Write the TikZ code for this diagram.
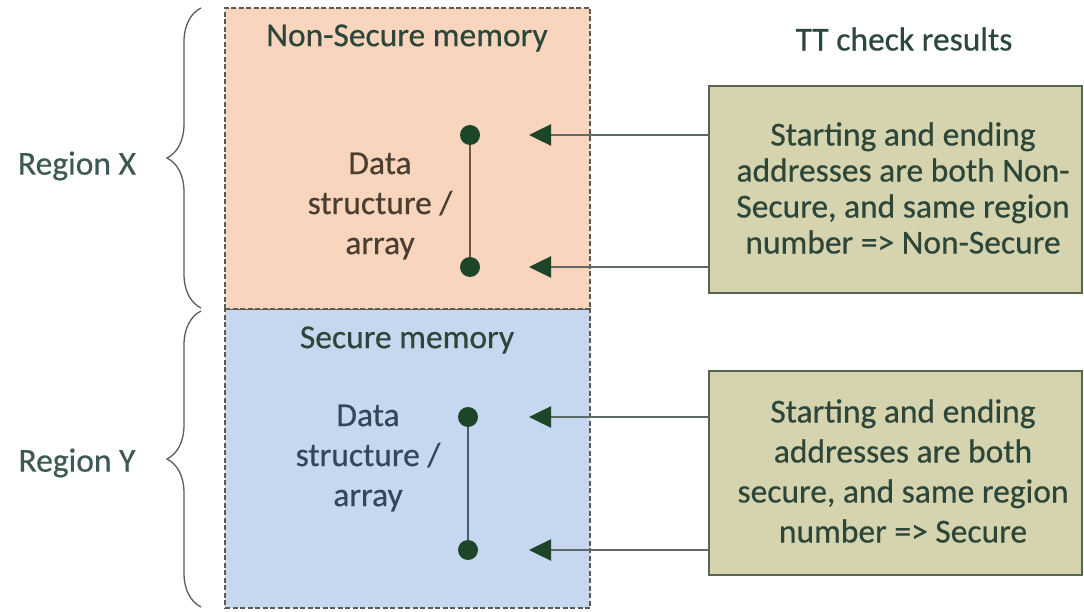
\documentclass[tikz,border=0pt]{standalone}
\usepackage{fontspec}
\newfontfamily\diagfont{Carlito}[FakeBold=0.45]
\usetikzlibrary{arrows.meta,decorations.pathreplacing}

\definecolor{peach}{HTML}{F9D5BE}
\definecolor{paleblue}{HTML}{C5D8EF}
\definecolor{khaki}{HTML}{D6D3AF}
\definecolor{khakiedge}{HTML}{56654F}
\definecolor{inkgreen}{HTML}{2C473A}
\definecolor{inkbrown}{HTML}{4A3E30}
\definecolor{inkslate}{HTML}{34465A}
\definecolor{labelink}{HTML}{3E5953}
\definecolor{dotgreen}{HTML}{1D4528}
\definecolor{wiregray}{HTML}{5F6A66}
\definecolor{stembrown}{HTML}{6A5846}
\definecolor{stemslate}{HTML}{4C5B68}
\definecolor{bracegray}{HTML}{5C5C5C}
\definecolor{dashgray}{HTML}{5A5A55}

\tikzset{
  txt/.style={inner sep=0pt, align=center, font=\diagfont\fontsize{33.5}{40}\selectfont},
  membox/.style={draw=dashgray, line width=1.4pt, dash pattern=on 5pt off 2.5pt,
                 minimum width=365pt, inner sep=0pt},
  checkbox/.style={draw=khakiedge, line width=2pt, fill=khaki,
                   minimum width=373pt, inner sep=0pt},
  enddot/.style={circle, fill=dotgreen, minimum size=20pt, inner sep=0pt},
  stem/.style={line width=2.8pt},
  probe/.style={draw=wiregray, line width=2.5pt,
                -{Triangle[length=22pt,width=21pt,color=dotgreen]}},
  brc/.style={draw=bracegray, line width=1.3pt,
              decorate, decoration={brace, amplitude=34pt}}
}

\begin{document}
\begin{tikzpicture}[x=1pt,y=-1pt]
\useasboundingbox (0,0) rectangle (1084,612);
\fill[white] (0,0) rectangle (1084,612);

% memory columns
\node[membox, fill=paleblue, minimum height=299pt] (smem) at (407.5,458.5) {};
\node[membox, fill=peach, minimum height=301pt] (nsmem) at (407.5,158.5) {};

\node[txt, text=inkgreen] (nstitle) at (407,38) {Non-Secure memory};
\node[txt, text=inkgreen] (stitle) at (407,340) {Secure memory};

\node[txt, text=inkbrown] (nsdata) at (380,206) {Data\\structure /\\array};
\node[txt, text=inkslate] (sdata) at (368,458) {Data\\structure /\\array};

% start and end addresses of each data structure
\node[enddot] (nsA) at (470,135) {};
\node[enddot] (nsB) at (470,267) {};
\node[enddot] (sA) at (468,417) {};
\node[enddot] (sB) at (468,550) {};
\draw[stem, stembrown] (nsA) -- (nsB);
\draw[stem, stemslate] (sA) -- (sB);

% TT check result boxes
\node[txt, text=inkgreen] (ttlabel) at (904,39) {TT check results};

\node[checkbox, minimum height=207pt] (chkNS) at (895.5,189.5) {};
\node[checkbox, minimum height=204pt] (chkS) at (895.5,473) {};

\node[txt, text=inkgreen, font=\diagfont\fontsize{33.5}{36}\selectfont] (txtNS) at (903,188)
  {Starting and ending\\addresses are both Non-\\Secure, and same region\\number => Non-Secure};
\node[txt, text=inkgreen] (txtS) at (903,471)
  {Starting and ending\\addresses are both\\secure, and same region\\number => Secure};

\coordinate (nsAin) at (529,135);
\coordinate (nsBin) at (529,267);
\coordinate (sAin) at (529,417);
\coordinate (sBin) at (529,550);
\draw[probe] (chkNS.west |- nsAin) -- (nsAin);
\draw[probe] (chkNS.west |- nsBin) -- (nsBin);
\draw[probe] (chkS.west |- sAin) -- (sAin);
\draw[probe] (chkS.west |- sBin) -- (sBin);

% region braces
\coordinate (bxTop) at (201,8);
\coordinate (bxBot) at (201,308);
\coordinate (byTop) at (201,311);
\coordinate (byBot) at (201,607);
\draw[brc] (bxBot) -- (bxTop);
\draw[brc] (byBot) -- (byTop);

\node[txt, text=labelink] (regX) at (77,166) {Region X};
\node[txt, text=labelink] (regY) at (77,463) {Region Y};
\end{tikzpicture}
\end{document}
